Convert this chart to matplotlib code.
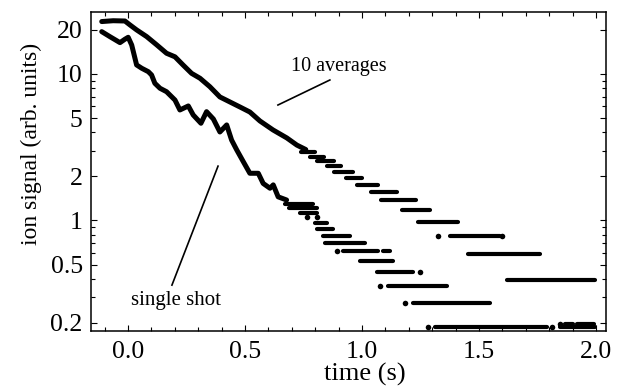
import matplotlib
matplotlib.use("Agg")
import matplotlib.pyplot as plt
from matplotlib.ticker import FixedLocator, MultipleLocator, FormatStrFormatter, NullFormatter

plt.rcParams['font.family'] = ['Liberation Serif', 'DejaVu Serif']

# ============================
#       DATA
# ============================

# 10 averages: continuous early part
avg_t = [-0.112, -0.063, -0.013, 0.009, 0.037, 0.080, 0.123, 0.165, 0.201, 0.236,
         0.272, 0.308, 0.350, 0.393, 0.436, 0.479, 0.521, 0.564, 0.620, 0.679, 0.722,
         0.760]
avg_v = [22.8, 23.1, 23.0, 21.6, 20.0, 18.0, 15.8, 13.85, 13.1, 11.5,
         10.1, 9.35, 8.19, 6.97, 6.44, 5.95, 5.50, 4.78, 4.15, 3.66, 3.27,
         3.05]

# 10 averages: digitised plateaus (level, start, end)
avg_step_level = [2.93, 2.73, 2.54, 2.34, 2.15, 1.95, 1.76, 1.56, 1.37, 1.17,
                  0.98, 0.78, 0.59, 0.39, 0.197, 0.197]
avg_step_start = [0.74, 0.78, 0.81, 0.85, 0.88, 0.93, 0.98, 1.04, 1.08, 1.17,
                  1.24, 1.376, 1.453, 1.62, 1.87, 1.92]
avg_step_end = [0.80, 0.84, 0.88, 0.91, 0.96, 1.00, 1.07, 1.15, 1.23, 1.29,
                1.41, 1.59, 1.76, 1.996, 1.90, 1.99]
avg_dot_t = [1.325, 1.60, 1.845]
avg_dot_v = [0.78, 0.78, 0.197]

# single shot: continuous early part
single_t = [-0.112, -0.077, -0.034, -0.013, 0.001, 0.016, 0.037, 0.059, 0.087, 0.101,
            0.115, 0.137, 0.165, 0.201, 0.222, 0.258, 0.279, 0.312, 0.336, 0.365,
            0.393, 0.422, 0.443, 0.465, 0.493, 0.521, 0.557, 0.578, 0.607, 0.621,
            0.642, 0.678]
single_v = [19.46, 17.98, 16.37, 17.27, 17.81, 15.78, 11.53, 10.94, 10.37, 9.85,
            8.64, 7.99, 7.57, 6.64, 5.68, 6.05, 5.25, 4.61, 5.53, 4.93,
            4.02, 4.49, 3.54, 3.03, 2.52, 2.10, 2.10, 1.79, 1.66, 1.75,
            1.45, 1.38]

# single shot: digitised plateaus
single_step_level = [1.30, 1.22, 1.12, 0.96, 0.875, 0.78, 0.70, 0.62, 0.62, 0.53,
                     0.445, 0.357, 0.273, 0.187, 0.187]
single_step_start = [0.67, 0.69, 0.735, 0.80, 0.81, 0.833, 0.842, 0.919, 1.09, 0.991,
                     1.064, 1.111, 1.218, 1.312, 1.846]
single_step_end = [0.79, 0.81, 0.81, 0.85, 0.876, 0.949, 1.013, 1.068, 1.12, 1.132,
                   1.218, 1.363, 1.547, 1.791, 1.996]
single_dot_t = [0.765, 0.808, 0.893, 1.248, 1.077, 1.184, 1.282, 1.812]
single_dot_v = [1.05, 1.05, 0.62, 0.445, 0.357, 0.273, 0.187, 0.187]

y_major = [0.2, 0.5, 1, 2, 5, 10, 20]
y_major_labels = ['0.2', '0.5', '1', '2', '5', '10', '20']
y_minor = [0.3, 0.4, 0.6, 0.7, 0.8, 0.9, 3, 4, 6, 7, 8, 9]

# ============================
#       PLOT
# ============================

fig = plt.figure(figsize=(6.21, 3.88), dpi=100)
ax = fig.add_axes([0.1465, 0.1469, 0.8293, 0.8222])

for t, v in [(avg_t, avg_v), (single_t, single_v)]:
    ax.plot(t, v, color='black', lw=3.6, solid_capstyle='round', solid_joinstyle='round')

for lev, t0, t1 in [(avg_step_level, avg_step_start, avg_step_end),
                    (single_step_level, single_step_start, single_step_end)]:
    ax.hlines(lev, t0, t1, colors='black', lw=3.0, capstyle='round')

ax.plot(avg_dot_t, avg_dot_v, 'o', color='black', ms=4, mew=0)
ax.plot(single_dot_t, single_dot_v, 'o', color='black', ms=4, mew=0)

# annotations
ax.plot([0.641, 0.863], [6.14, 9.10], color='black', lw=1.2)
ax.text(0.697, 11.3, '10 averages', fontsize=14.5, va='center', ha='left')
ax.plot([0.385, 0.188], [2.35, 0.362], color='black', lw=1.2)
ax.text(0.207, 0.286, 'single shot', fontsize=15, va='center', ha='center')

ax.set_yscale('log')
ax.set_xlim(-0.158, 2.043)
ax.set_ylim(0.176, 26.5)

ax.xaxis.set_major_locator(MultipleLocator(0.5))
ax.xaxis.set_minor_locator(MultipleLocator(0.1))
ax.xaxis.set_major_formatter(FormatStrFormatter('%.1f'))
ax.yaxis.set_major_locator(FixedLocator(y_major))
ax.yaxis.set_minor_locator(FixedLocator(y_minor))
ax.set_yticklabels(y_major_labels)
ax.yaxis.set_minor_formatter(NullFormatter())

ax.tick_params(which='both', direction='in', top=True, right=True, labelsize=18.5, width=0.8)
ax.tick_params(which='major', length=4.5)
ax.tick_params(axis='x', which='major', pad=7)
ax.tick_params(axis='y', which='major', pad=6)
ax.tick_params(which='minor', length=2.8)
for s in ax.spines.values():
    s.set_linewidth(1.1)

ax.set_xlabel('time (s)', fontsize=19, labelpad=0, x=0.532)
ax.set_ylabel('ion signal (arb. units)', fontsize=17, labelpad=6, y=0.586)

fig.savefig('out.png', dpi=100)
